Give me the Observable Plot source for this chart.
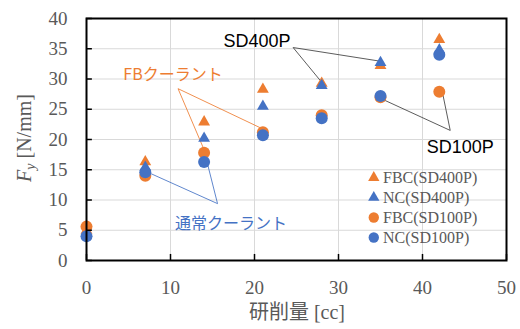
<!DOCTYPE html>
<html>
<head>
<meta charset="utf-8">
<script src="https://cdn.jsdelivr.net/npm/d3@7"></script>
<script src="https://cdn.jsdelivr.net/npm/@observablehq/plot@0.6"></script>
<style>
  body { margin: 0; background: #fff; }
  #chart svg { display: block; }
</style>
</head>
<body>
<div id="chart"></div>
<script>
// Grinding amount [cc] and yield force Fy [N/mm] for each coolant / sheet
const amounts   = [0, 7, 14, 21, 28, 35, 42];
const fbcSD400P = [5.0, 16.3, 22.9, 28.3, 29.3, 32.2, 36.5];
const ncSD400P  = [4.5, 15.4, 20.2, 25.5, 28.9, 32.7, 34.8];
const fbcSD100P = [5.6, 14.0, 17.8, 21.2, 24.0, 27.0, 27.9];
const ncSD100P  = [4.0, 14.6, 16.3, 20.7, 23.5, 27.2, 34.0];
const seriesNames = ["FBC(SD400P)", "NC(SD400P)", "FBC(SD100P)", "NC(SD100P)"];
const xTicks = [0, 10, 20, 30, 40, 50];
const yTicks = [0, 5, 10, 15, 20, 25, 30, 35, 40];

const ORANGE = "#ED7D31";
const BLUE = "#4472C4";
const GRAY = "#595959";

const series = [
  { name: seriesNames[0], values: fbcSD400P, color: ORANGE, symbol: "triangle", r: 4.4 },
  { name: seriesNames[1], values: ncSD400P,  color: BLUE,   symbol: "triangle", r: 4.4 },
  { name: seriesNames[2], values: fbcSD100P, color: ORANGE, symbol: "circle",   r: 6 },
  { name: seriesNames[3], values: ncSD100P,  color: BLUE,   symbol: "circle",   r: 6 }
];
const rows = series.map(s => s.values.map((fy, i) => ({ series: s.name, amount: amounts[i], fy })));

// Callout labels (data units) and their leader lines
const callouts = [
  { text: "SD400P", x: 20.3, y: 36.2, color: "#000", font: "Liberation Sans, Arial, sans-serif", size: 18 },
  { text: "SD100P", x: 44.5, y: 18.7, color: "#000", font: "Liberation Sans, Arial, sans-serif", size: 18 },
  { text: "FBクーラント", x: 10.3, y: 30.7, color: ORANGE, font: "Noto Sans CJK JP, sans-serif", size: 16 },
  { text: "通常クーラント", x: 17.2, y: 6.1, color: BLUE, font: "Noto Sans CJK JP, sans-serif", size: 16 }
];
const leaders = [
  { x1: 24.6, y1: 35.2, x2: 27.8, y2: 29.8, color: "#404040" },
  { x1: 24.6, y1: 35.2, x2: 34.7, y2: 33.0, color: "#404040" },
  { x1: 43.3, y1: 21.5, x2: 35.0, y2: 26.8, color: "#404040" },
  { x1: 43.3, y1: 21.5, x2: 42.4, y2: 27.6, color: "#404040" },
  { x1: 10.9, y1: 28.4, x2: 14.0, y2: 18.3, color: ORANGE },
  { x1: 10.9, y1: 28.4, x2: 20.9, y2: 21.8, color: ORANGE },
  { x1: 15.6, y1: 9.4,  x2: 7.6,  y2: 14.4, color: BLUE },
  { x1: 15.6, y1: 9.4,  x2: 14.4, y2: 16.0, color: BLUE }
];

// Legend placement inside the plot area (data units)
const legendX = 34.2, legendTextX = 35.3, legendTop = 13.7, legendStep = 3.3;

const marks = [
  Plot.gridX(xTicks, { stroke: "#d9d9d9", strokeOpacity: 1 }),
  Plot.gridY(yTicks, { stroke: "#d9d9d9", strokeOpacity: 1 }),
  Plot.axisX(xTicks, { tickSize: 0, tickPadding: 20, fill: GRAY, label: null }),
  Plot.axisY(yTicks, { tickSize: 0, tickPadding: 19, fill: GRAY, label: null }),
  Plot.link(leaders, { x1: "x1", y1: "y1", x2: "x2", y2: "y2", stroke: d => d.color, strokeWidth: 1, strokeOpacity: 0.85 }),
  ...series.map((s, k) => Plot.dot(rows[k], {
    x: "amount", y: "fy", symbol: s.symbol, r: s.r, fill: s.color, stroke: "none"
  })),
  ...callouts.map(c => Plot.text([c], {
    x: "x", y: "y", text: "text", fill: c.color, fontFamily: c.font, fontSize: c.size
  })),
  ...series.map((s, k) => Plot.dot([s], {
    x: () => legendX, y: () => legendTop - k * legendStep,
    symbol: s.symbol, r: s.symbol === "triangle" ? 4.2 : 5.2, fill: s.color, stroke: "none"
  })),
  Plot.text(series, {
    x: () => legendTextX, y: (d, k) => legendTop - k * legendStep, text: "name",
    textAnchor: "start", fill: GRAY, fontSize: 16, fontFamily: "Liberation Serif, serif"
  }),
  Plot.ruleX(xTicks, { y1: 0, y2: 1, stroke: "#000", strokeWidth: 1.5 }),
  Plot.ruleY(yTicks, { x1: 0, x2: 0.7, stroke: "#000", strokeWidth: 1.5 }),
  Plot.frame({ stroke: "#000", strokeWidth: 2 })
];

const chart = Plot.plot({
  width: 520,
  height: 329,
  marginLeft: 86,
  marginRight: 14,
  marginTop: 18,
  marginBottom: 69,
  x: { domain: [0, 50] },
  y: { domain: [0, 40] },
  style: { fontFamily: "Liberation Serif, serif", fontSize: "19px", background: "#fff", color: GRAY },
  marks
});

// Axis titles with mixed scripts and a subscript
const svg = d3.select(chart);
const yTitle = svg.append("text")
  .attr("transform", "translate(24,138) rotate(-90)")
  .attr("text-anchor", "middle")
  .attr("dy", "0.35em")
  .attr("fill", GRAY)
  .style("font-family", "Liberation Serif, serif")
  .style("font-size", "20px");
yTitle.append("tspan").style("font-style", "italic").text("F");
yTitle.append("tspan").style("font-style", "italic").style("font-size", "14px").attr("dy", "0.3em").text("y");
yTitle.append("tspan").attr("dy", "-0.2em").text(" [N/mm]");

const xTitle = svg.append("text")
  .attr("x", 297)
  .attr("y", 312)
  .attr("text-anchor", "middle")
  .attr("dy", "0.35em")
  .attr("fill", GRAY)
  .style("font-size", "20px");
xTitle.append("tspan").style("font-family", "Noto Sans CJK JP, sans-serif").text("研削量");
xTitle.append("tspan").style("font-family", "Liberation Serif, serif").text(" [cc]");

document.getElementById("chart").append(chart);
</script>
</body>
</html>
